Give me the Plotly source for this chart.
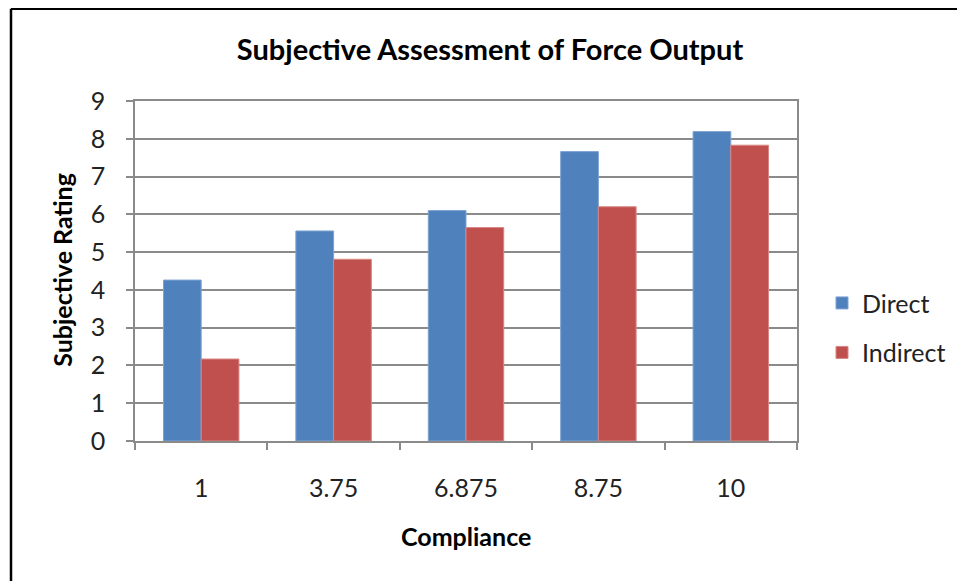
import plotly.graph_objects as go

categories = ["1", "3.75", "6.875", "8.75", "10"]
direct = [4.26, 5.56, 6.10, 7.66, 8.19]
indirect = [2.17, 4.81, 5.65, 6.20, 7.83]
y_ticks = [0, 1, 2, 3, 4, 5, 6, 7, 8, 9]

FONT = "Lato"
GRID = "#8a8a8a"
OFF = 8  # page body margin

fig = go.Figure()
fig.add_trace(go.Bar(x=categories, y=direct, name="Direct", legendgroup="d",
                     marker=dict(color="#4F81BD", line=dict(color="#7EA3D2", width=1))))
fig.add_trace(go.Bar(x=categories, y=indirect, name="Indirect", legendgroup="i",
                     marker=dict(color="#C0504D", line=dict(color="#D88683", width=1))))

W, H = 965 - OFF, 581 - OFF
L, R, T, B = 135 - OFF, 797 - OFF, 101 - OFF, 441.5 - OFF
pw, ph = R - L, B - T

def px(x):
    return (x - OFF - L) / pw

def py(y):
    return (B - (y - OFF)) / ph

fig.update_layout(
    width=W, height=H,
    margin=dict(l=L, r=W - R, t=T, b=H - B, pad=0),
    paper_bgcolor="white", plot_bgcolor="white",
    barmode="group", bargap=0.43, bargroupgap=0,
    font=dict(family=FONT, size=25, color="#222222"),
    title=dict(text="<b>Subjective Assessment of Force Output</b>",
               x=(490 - OFF) / W, xanchor="center", y=1 - (50 - OFF) / H,
               yanchor="middle",
               font=dict(family=FONT, size=29, color="black")),
    legend=dict(x=px(822), xanchor="left", y=py(328), yanchor="middle",
                font=dict(family=FONT, size=25, color="#222222"),
                tracegroupgap=14, traceorder="grouped", bgcolor="rgba(0,0,0,0)"),
    xaxis=dict(type="category", showline=True, linecolor=GRID, linewidth=1.5,
               mirror=True, ticks="outside", tickson="boundaries", ticklen=7,
               tickcolor=GRID, tickwidth=1.5, showgrid=False,
               ticklabelstandoff=24, tickfont=dict(size=25)),
    yaxis=dict(range=[0, 9], tickvals=y_ticks, showline=True, linecolor=GRID,
               linewidth=1.5, mirror=True, ticks="outside", ticklen=7,
               tickcolor=GRID, tickwidth=1.5, showgrid=True, gridcolor=GRID,
               gridwidth=1.5, zeroline=False, ticklabelstandoff=16,
               tickfont=dict(size=25)),
    annotations=[
        dict(text="<b>Compliance</b>", xref="paper", yref="paper",
             x=0.5, y=py(537), xanchor="center", yanchor="middle",
             showarrow=False, font=dict(family=FONT, size=25, color="black")),
        dict(text="<b>Subjective Rating</b>", xref="paper", yref="paper",
             x=px(62), y=py(270), xanchor="center", yanchor="middle",
             textangle=-90, showarrow=False,
             font=dict(family=FONT, size=25, color="black")),
    ],
    shapes=[
        dict(type="line", xref="paper", yref="paper", x0=px(11), x1=px(975),
             y0=py(8.5), y1=py(8.5), line=dict(color="black", width=2.5)),
        dict(type="line", xref="paper", yref="paper", x0=px(11), x1=px(11),
             y0=py(8.5), y1=py(600), line=dict(color="black", width=2.5)),
    ],
)

fig.write_html("out.html")
